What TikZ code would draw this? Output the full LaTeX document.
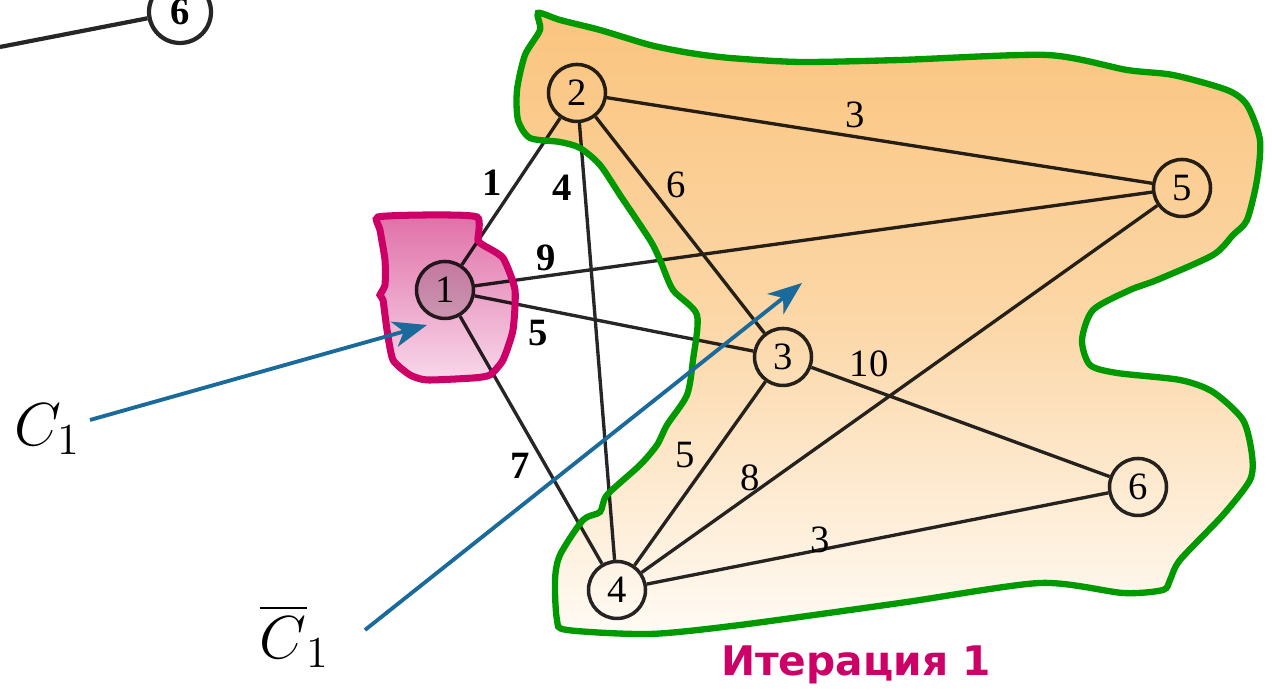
\documentclass[tikz,border=0pt]{standalone}
\usepackage{amsmath}
\usepackage{fontspec}
\newfontfamily\graphfont{Liberation Serif}
\newfontfamily\capfont[BoldFont={DejaVu Sans Bold}]{DejaVu Sans}
\usetikzlibrary{arrows.meta,positioning}

\definecolor{regiongreen}{HTML}{009A00}
\definecolor{regionpink}{HTML}{CC0066}
\definecolor{sandtop}{HTML}{FAC47E}
\definecolor{sandbot}{HTML}{FFFBF5}
\definecolor{pinktop}{HTML}{E070A8}
\definecolor{pinkbot}{HTML}{F8D8EA}
\definecolor{pointerblue}{HTML}{1B6A9C}

\tikzset{
  vertex/.style={circle, draw=black!85, line width=1pt, minimum size=0.57cm, inner sep=0pt, font=\graphfont\fontsize{11}{11}\selectfont},
  weight/.style={inner sep=1pt, font=\graphfont\fontsize{11}{11}\selectfont},
  boldweight/.style={weight, font=\graphfont\bfseries\fontsize{11}{11}\selectfont},
  edge/.style={draw=black!85, line width=0.95pt},
  pointer/.style={draw=pointerblue, line width=1.1pt, -{Stealth[length=3.4mm, width=2.6mm, inset=1mm]}},
  setname/.style={font=\fontsize{18}{20}\selectfont}
}

\begin{document}
\begin{tikzpicture}
\useasboundingbox (0,0) rectangle (12.72,6.91);

% vertices
\node[vertex, minimum size=0.62cm, line width=1.2pt, font=\graphfont\bfseries\fontsize{11}{11}\selectfont] (u6) at (1.80,6.79) {6};
\coordinate (u0) at (0,6.44);
\node[vertex, fill=black!15] (v1) at (4.45,4.01) {1};
\node[vertex] (v2) at (5.77,5.98) {2};
\node[vertex] (v3) at (7.83,3.34) {3};
\node[vertex] (v4) at (6.17,1.01) {4};
\node[vertex] (v5) at (11.82,5.03) {5};
\node[vertex] (v6) at (11.38,2.04) {6};

% edges
\draw[edge, line width=1.2pt] (u0) -- (u6);
\draw[edge] (v1) -- (v2) (v1) -- (v5) (v1) -- (v3) (v1) -- (v4);
\draw[edge] (v2) -- (v4) (v2) -- (v3) (v2) -- (v5);
\draw[edge] (v3) -- (v6) (v3) -- (v4) (v5) -- (v4) (v4) -- (v6);

% weights
\node[boldweight] (w12) at (4.92,5.08) {1};
\node[boldweight] (w24) at (5.62,5.03) {4};
\node[weight] (w23) at (6.76,5.06) {6};
\node[weight] (w25) at (8.55,5.76) {3};
\node[boldweight] (w15) at (5.46,4.33) {9};
\node[boldweight] (w13) at (5.38,3.58) {5};
\node[boldweight] (w14) at (5.20,2.25) {7};
\node[weight] (w36) at (8.69,3.27) {10};
\node[weight] (w34) at (6.85,2.36) {5};
\node[weight] (w54) at (7.50,2.13) {8};
\node[weight] (w46) at (8.20,1.51) {3};

% the set \bar C_1
\def\restpath{plot[smooth cycle, tension=0.45] coordinates {
  (5.38,6.78) (5.60,6.71) (6.00,6.61) (6.50,6.46) (6.90,6.38) (7.30,6.33)
  (8.00,6.29) (9.00,6.31) (10.47,6.36) (11.27,6.21) (11.73,6.16) (12.27,6.01)
  (12.47,5.86) (12.60,5.51) (12.57,5.11) (12.47,4.71) (12.33,4.56) (12.13,4.36)
  (11.57,4.11) (11.30,4.01) (10.93,3.81) (10.82,3.51) (10.90,3.26) (11.17,3.18)
  (11.80,3.11) (12.13,2.99) (12.43,2.71) (12.52,2.36) (12.50,2.11) (12.23,1.76)
  (11.80,1.31) (11.70,1.11) (11.63,1.01) (11.23,0.98) (10.40,1.08) (9.00,0.88)
  (7.40,0.66) (6.50,0.57) (5.67,0.61) (5.57,0.71) (5.55,1.11) (5.60,1.36)
  (5.83,1.71) (6.00,1.79) (6.07,1.96) (6.40,2.26) (6.57,2.46) (6.67,2.66)
  (6.87,2.96) (6.93,3.31) (6.97,3.76) (6.73,4.01) (6.60,4.31) (6.50,4.51)
  (6.20,4.96) (6.00,5.26) (5.80,5.43) (5.60,5.49) (5.30,5.53) (5.18,5.71)
  (5.17,6.01) (5.25,6.36) (5.40,6.61)}}
\begin{scope}[blend mode=multiply]
  \shade[top color=sandtop, bottom color=sandbot, middle color=sandtop!65!sandbot] \restpath;
\end{scope}
\draw[regiongreen, line width=1.8pt] \restpath;

% the set C_1
\def\startpath{plot[smooth cycle, tension=0.35] coordinates {
  (3.78,4.74) (4.28,4.76) (4.77,4.74) (4.78,4.51) (4.83,4.46) (5.03,4.33)
  (5.15,4.01) (5.13,3.61) (5.03,3.31) (4.90,3.16) (4.73,3.13) (4.27,3.11)
  (4.10,3.16) (3.93,3.31) (3.87,3.61) (3.83,3.91) (3.80,3.96) (3.85,4.06)
  (3.85,4.31) (3.80,4.61)}}
\begin{scope}[blend mode=multiply]
  \shade[top color=pinktop, bottom color=pinkbot] \startpath;
\end{scope}
\draw[regionpink, line width=2pt] \startpath;

% labels and pointers
\node[setname] (c1) at (0.48,2.62) {$C_{\mathrm{1}}$};
\node[setname] (c1bar) at (2.95,0.55) {$\overline{C}_{\mathrm{1}}$};
\coordinate (c1from) at (0.90,2.71);
\coordinate (c1to) at (4.27,3.66);
\coordinate (c1barfrom) at (3.65,0.61);
\coordinate (c1barto) at (8.02,4.08);
\draw[pointer] (c1from) -- (c1to);
\draw[pointer] (c1barfrom) -- (c1barto);

\node[text=regionpink, font=\capfont\bfseries\fontsize{11.6}{13}\selectfont] (iter) at (8.56,0.26) {Итерация 1};
\end{tikzpicture}
\end{document}
